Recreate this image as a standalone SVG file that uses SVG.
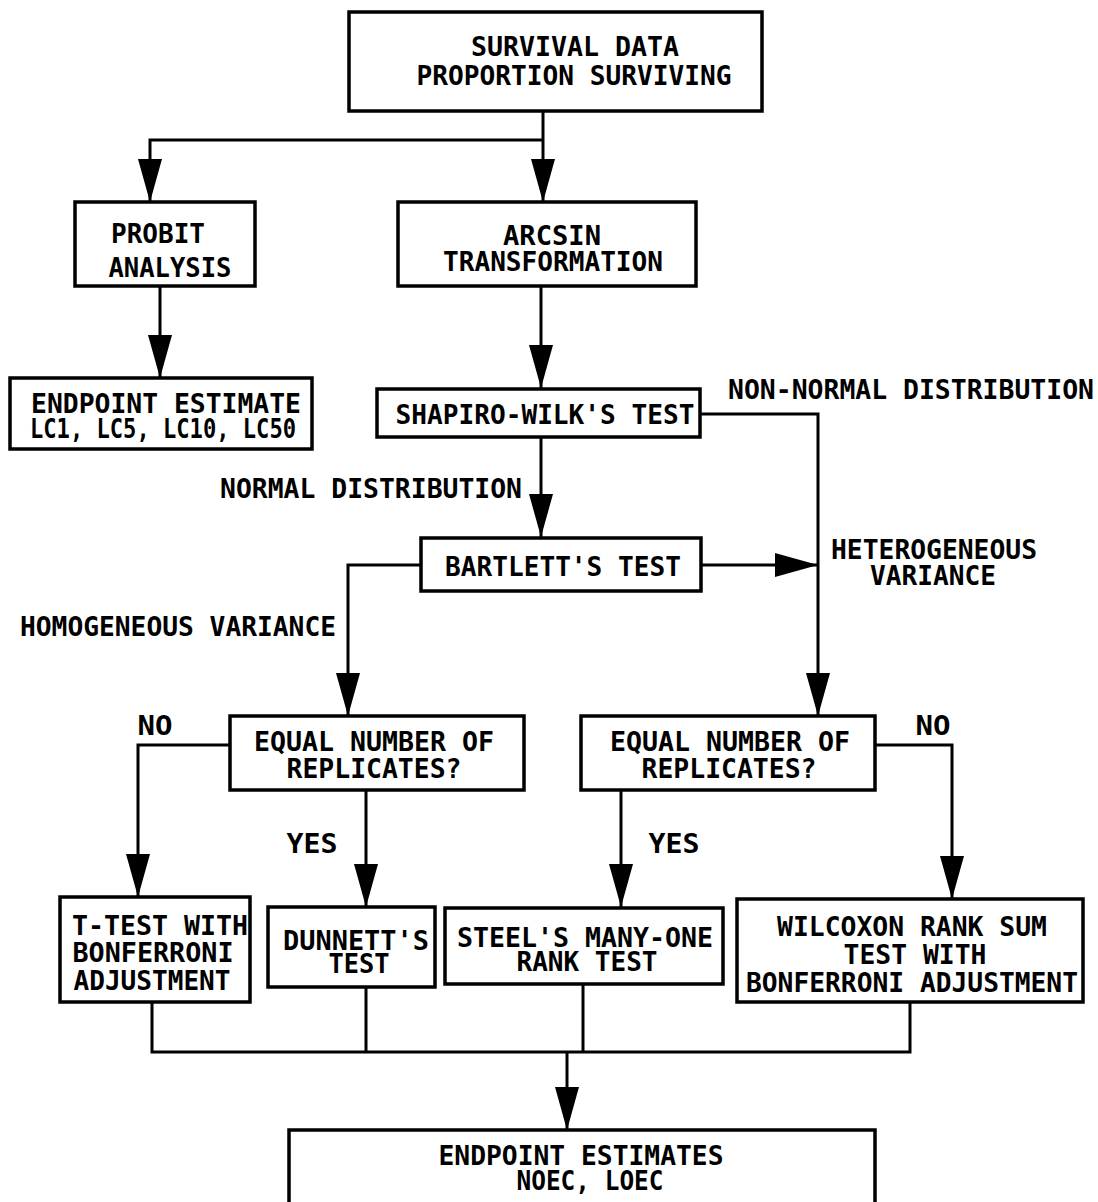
<svg xmlns="http://www.w3.org/2000/svg" width="1098" height="1202" viewBox="0 0 1098 1202">
<style>
.box{fill:#fff;stroke:#000;stroke-width:3.5}
.t{font-family:"DejaVu Sans Mono","Liberation Mono",monospace;font-weight:bold;font-size:26px;fill:#000;text-anchor:middle}
.c{fill:none;stroke:#000;stroke-width:3}
</style>
<defs>
<marker id="ah" markerUnits="userSpaceOnUse" markerWidth="44" markerHeight="26" viewBox="0 0 44 26" refX="43" refY="13" orient="auto">
<path d="M0,1 L43,13 L0,25 z" fill="#000"/>
</marker>
</defs>
<rect width="1098" height="1202" fill="#fff"/>
<g id="connectors">
<path class="c" d="M543,111 V202" marker-end="url(#ah)"/>
<path class="c" d="M543,140 H150 V202" marker-end="url(#ah)"/>
<path class="c" d="M160,286 V378" marker-end="url(#ah)"/>
<path class="c" d="M541,286 V388" marker-end="url(#ah)"/>
<path class="c" d="M541,436 V537" marker-end="url(#ah)"/>
<path class="c" d="M700,414 H818 V716" marker-end="url(#ah)"/>
<path class="c" d="M700,565 H818" marker-end="url(#ah)"/>
<path class="c" d="M421,565 H348 V716" marker-end="url(#ah)"/>
<path class="c" d="M230,745 H138 V897" marker-end="url(#ah)"/>
<path class="c" d="M366,790 V907" marker-end="url(#ah)"/>
<path class="c" d="M875,745 H952 V899" marker-end="url(#ah)"/>
<path class="c" d="M621,790 V907" marker-end="url(#ah)"/>
<path class="c" d="M152,1002 V1052 H910 V1002"/>
<path class="c" d="M366,987 V1052"/>
<path class="c" d="M583,985 V1052"/>
<path class="c" d="M567,1052 V1130" marker-end="url(#ah)"/>
</g>
<g id="n-survival">
<rect class="box" x="349" y="12" width="413" height="99"/>
<text class="t" x="575" y="56" textLength="208" lengthAdjust="spacingAndGlyphs">SURVIVAL DATA</text>
<text class="t" x="574" y="85" textLength="315" lengthAdjust="spacingAndGlyphs">PROPORTION SURVIVING</text>
</g>
<g id="n-probit">
<rect class="box" x="75" y="202" width="180" height="84"/>
<text class="t" x="158" y="243" textLength="94" lengthAdjust="spacingAndGlyphs">PROBIT</text>
<text class="t" x="170" y="277" textLength="123" lengthAdjust="spacingAndGlyphs">ANALYSIS</text>
</g>
<g id="n-endpoint-lc">
<rect class="box" x="10" y="378" width="302" height="71"/>
<text class="t" x="166" y="413" textLength="270" lengthAdjust="spacingAndGlyphs">ENDPOINT ESTIMATE</text>
<text class="t" x="163" y="438" textLength="266" lengthAdjust="spacingAndGlyphs">LC1, LC5, LC10, LC50</text>
</g>
<g id="n-arcsin">
<rect class="box" x="398" y="202" width="298" height="84"/>
<text class="t" x="552" y="245" textLength="98" lengthAdjust="spacingAndGlyphs">ARCSIN</text>
<text class="t" x="553" y="271" textLength="220" lengthAdjust="spacingAndGlyphs">TRANSFORMATION</text>
</g>
<g id="n-shapiro">
<rect class="box" x="377" y="389" width="323" height="48"/>
<text class="t" x="545" y="424" textLength="299" lengthAdjust="spacingAndGlyphs">SHAPIRO-WILK'S TEST</text>
</g>
<g id="n-bartlett">
<rect class="box" x="421" y="538" width="280" height="53"/>
<text class="t" x="563" y="576" textLength="236" lengthAdjust="spacingAndGlyphs">BARTLETT'S TEST</text>
</g>
<g id="n-equal-left">
<rect class="box" x="230" y="716" width="294" height="74"/>
<text class="t" x="374" y="751" textLength="240" lengthAdjust="spacingAndGlyphs">EQUAL NUMBER OF</text>
<text class="t" x="374" y="778" textLength="175" lengthAdjust="spacingAndGlyphs">REPLICATES?</text>
</g>
<g id="n-equal-right">
<rect class="box" x="581" y="716" width="294" height="74"/>
<text class="t" x="730" y="751" textLength="240" lengthAdjust="spacingAndGlyphs">EQUAL NUMBER OF</text>
<text class="t" x="729" y="778" textLength="175" lengthAdjust="spacingAndGlyphs">REPLICATES?</text>
</g>
<g id="n-ttest">
<rect class="box" x="60" y="897" width="190" height="105"/>
<text class="t" x="160" y="935" textLength="176" lengthAdjust="spacingAndGlyphs">T-TEST WITH</text>
<text class="t" x="153" y="962" textLength="161" lengthAdjust="spacingAndGlyphs">BONFERRONI</text>
<text class="t" x="152" y="990" textLength="157" lengthAdjust="spacingAndGlyphs">ADJUSTMENT</text>
</g>
<g id="n-dunnett">
<rect class="box" x="268" y="907" width="167" height="80"/>
<text class="t" x="356" y="950" textLength="146" lengthAdjust="spacingAndGlyphs">DUNNETT'S</text>
<text class="t" x="359" y="973" textLength="61" lengthAdjust="spacingAndGlyphs">TEST</text>
</g>
<g id="n-steel">
<rect class="box" x="445" y="908" width="278" height="76"/>
<text class="t" x="585" y="947" textLength="256" lengthAdjust="spacingAndGlyphs">STEEL'S MANY-ONE</text>
<text class="t" x="587" y="971" textLength="141" lengthAdjust="spacingAndGlyphs">RANK TEST</text>
</g>
<g id="n-wilcoxon">
<rect class="box" x="737" y="899" width="346" height="103"/>
<text class="t" x="912" y="936" textLength="270" lengthAdjust="spacingAndGlyphs">WILCOXON RANK SUM</text>
<text class="t" x="915" y="964" textLength="143" lengthAdjust="spacingAndGlyphs">TEST WITH</text>
<text class="t" x="912" y="992" textLength="332" lengthAdjust="spacingAndGlyphs">BONFERRONI ADJUSTMENT</text>
</g>
<g id="n-endpoint-noec">
<rect class="box" x="289" y="1130" width="586" height="100"/>
<text class="t" x="581" y="1165" textLength="285" lengthAdjust="spacingAndGlyphs">ENDPOINT ESTIMATES</text>
<text class="t" x="590" y="1190" textLength="147" lengthAdjust="spacingAndGlyphs">NOEC, LOEC</text>
</g>
<g id="labels">
<text class="t" x="911" y="399" textLength="366" lengthAdjust="spacingAndGlyphs">NON-NORMAL DISTRIBUTION</text>
<text class="t" x="371" y="498" textLength="302" lengthAdjust="spacingAndGlyphs">NORMAL DISTRIBUTION</text>
<text class="t" x="934" y="559" textLength="206" lengthAdjust="spacingAndGlyphs">HETEROGENEOUS</text>
<text class="t" x="933" y="585" textLength="126" lengthAdjust="spacingAndGlyphs">VARIANCE</text>
<text class="t" x="178" y="636" textLength="316" lengthAdjust="spacingAndGlyphs">HOMOGENEOUS VARIANCE</text>
<text class="t" x="155" y="735" textLength="35" lengthAdjust="spacingAndGlyphs">NO</text>
<text class="t" x="312" y="853" textLength="51" lengthAdjust="spacingAndGlyphs">YES</text>
<text class="t" x="933" y="735" textLength="35" lengthAdjust="spacingAndGlyphs">NO</text>
<text class="t" x="674" y="853" textLength="51" lengthAdjust="spacingAndGlyphs">YES</text>
</g>
</svg>
